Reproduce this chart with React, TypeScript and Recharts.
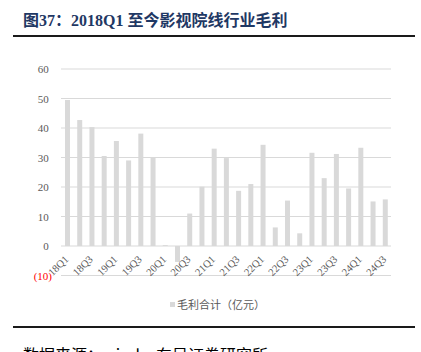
import React from 'react';
import { BarChart, Bar, XAxis, YAxis, CartesianGrid } from 'recharts';

const quarters = [
  '18Q1', '18Q2', '18Q3', '18Q4',
  '19Q1', '19Q2', '19Q3', '19Q4',
  '20Q1', '20Q2', '20Q3', '20Q4',
  '21Q1', '21Q2', '21Q3', '21Q4',
  '22Q1', '22Q2', '22Q3', '22Q4',
  '23Q1', '23Q2', '23Q3', '23Q4',
  '24Q1', '24Q2', '24Q3',
];
const grossProfit = [
  49.5, 42.7, 40.3, 30.5,
  35.6, 29.0, 38.1, 30.0,
  0.3, -5.4, 11.0, 20.1,
  33.0, 29.8, 18.7, 21.0,
  34.3, 6.3, 15.4, 4.3,
  31.6, 23.0, 31.2, 19.5,
  33.3, 15.1, 15.8,
];
const yTicks = [-10, 0, 10, 20, 30, 40, 50, 60];
const seriesName = '毛利合计（亿元）';
const titleText = '图37：2018Q1 至今影视院线行业毛利';
const sourceText = '数据来源：wind，东吴证券研究所';

const data = quarters.map((q, i) => ({ q, v: grossProfit[i] }));

const W = 421;
const H = 352;
const X_AXIS_H = 30;
const MARGIN = { top: 69, right: 30, bottom: 76.5 - X_AXIS_H, left: 1 };
const Y_MIN = -10;
const Y_MAX = 60;
const PLOT_H = H - MARGIN.top - MARGIN.bottom - X_AXIS_H;
const ZERO_OFFSET = (PLOT_H * (0 - Y_MIN)) / (Y_MAX - Y_MIN);

const SERIF = '"Liberation Serif", "Times New Roman", serif';
const CJK = '"Liberation Serif", "Noto Sans CJK SC", sans-serif';

const YTick = (props: any) => {
  const { x, y, payload } = props;
  const v = payload.value as number;
  const neg = v < 0;
  return (
    <text
      x={neg ? x + 3.3 : x}
      y={y}
      dy={4}
      textAnchor="end"
      fontFamily={SERIF}
      fontSize={11}
      fill={neg ? '#ff0000' : '#595959'}
    >
      {neg ? `(${Math.abs(v)})` : v}
    </text>
  );
};

const XTick = (props: any) => {
  const { x, y, payload } = props;
  const ax = x + 2;
  const ay = y - ZERO_OFFSET + 14;
  return (
    <g transform={`translate(${ax},${ay})`}>
      <g transform="rotate(-45)">
        <text
          x={0}
          y={0}
          textAnchor="end"
          fontFamily={SERIF}
          fontSize={10.5}
          fill="#595959"
        >
          {payload.value}
        </text>
      </g>
    </g>
  );
};

export default function App() {
  return (
    <div style={{ position: 'absolute', left: 0, top: 0, width: W, height: H, background: '#fff', overflow: 'hidden' }}>
      <div
        style={{
          position: 'absolute',
          left: 23,
          top: 10,
          fontFamily: CJK,
          fontWeight: 'bold',
          fontSize: 16,
          lineHeight: '22px',
          color: '#1f3864',
          whiteSpace: 'nowrap',
        }}
      >
        {titleText}
      </div>
      <div style={{ position: 'absolute', left: 13, top: 35, width: 402, height: 2, background: '#1a1a1a' }} />
      <div style={{ position: 'absolute', left: 0, top: 0 }}>
        <BarChart width={W} height={H} data={data} margin={MARGIN}>
          <CartesianGrid vertical={false} stroke="#d9d9d9" strokeWidth={1} />
          <XAxis
            dataKey="q"
            axisLine={false}
            tickLine={false}
            tickSize={0}
            tickMargin={0}
            height={X_AXIS_H}
            interval={1}
            tick={<XTick />}
          />
          <YAxis
            width={60}
            domain={[Y_MIN, Y_MAX]}
            ticks={yTicks}
            axisLine={false}
            tickLine={false}
            tickSize={0}
            tickMargin={12.3}
            tick={<YTick />}
          />
          <Bar dataKey="v" name={seriesName} fill="#d9d9d9" barSize={5} isAnimationActive={false} />
        </BarChart>
      </div>
      <div
        style={{
          position: 'absolute',
          left: 170,
          top: 296,
          height: 16,
          display: 'flex',
          alignItems: 'center',
          fontFamily: '"Noto Sans CJK SC", sans-serif',
          fontSize: 11,
          color: '#595959',
          whiteSpace: 'nowrap',
        }}
      >
        <span style={{ display: 'inline-block', width: 5, height: 5, background: '#d9d9d9', marginRight: 2 }} />
        <span>{seriesName}</span>
      </div>
      <div style={{ position: 'absolute', left: 13, top: 326, width: 402, height: 2, background: '#1a1a1a' }} />
      <div
        style={{
          position: 'absolute',
          left: 23,
          top: 343,
          fontFamily: '"Noto Sans CJK SC", sans-serif',
          fontSize: 16,
          lineHeight: '22px',
          color: '#000',
          whiteSpace: 'nowrap',
        }}
      >
        {sourceText}
      </div>
    </div>
  );
}
